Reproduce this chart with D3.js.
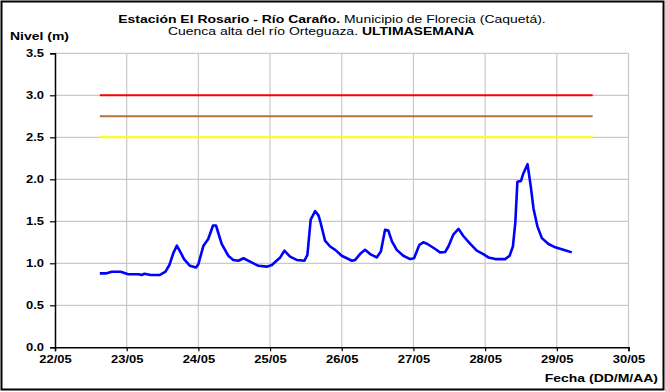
<!DOCTYPE html>
<html><head><meta charset="utf-8">
<script src="https://cdn.jsdelivr.net/npm/d3@7"></script>
<style>body{margin:0;background:#fff}svg{display:block;font-family:"Liberation Sans",Arial,sans-serif}</style>
</head><body><svg id="c" width="665" height="392"></svg>
<script>
// Hours after 22/05 00:00 and water level (m)
const hours = [15,17,19,22,24.5,28,29,30,32,35,37,38.3,39.6,40.8,41.9,43.2,45.2,47.2,48,49.7,51.3,52.9,53.9,55.8,58,59.7,61.4,63.1,65.3,68.1,70.9,72.6,75.4,76.8,78.7,80.9,83.5,84.5,85.6,87.1,88.2,88.8,90.4,92.1,93.8,96,97.7,99.4,100.5,102.1,103.8,105.5,107.7,109.1,110.5,111.6,112.8,114.4,116.6,118.9,120.2,122,123.3,124.7,127.3,128.9,130.6,131.7,133.4,135.1,136.7,138.8,141.2,143.4,145.1,147.4,150.7,152.2,153.3,154.1,154.8,156,156.8,158.2,159.3,160.2,161.5,163,165.2,167.5,170.2,173];
const levels = [0.88,0.88,0.90,0.90,0.87,0.87,0.86,0.875,0.86,0.86,0.90,0.98,1.12,1.21,1.14,1.05,0.97,0.95,0.99,1.21,1.29,1.45,1.45,1.23,1.09,1.04,1.03,1.06,1.02,0.97,0.96,0.98,1.07,1.15,1.08,1.04,1.03,1.10,1.52,1.62,1.57,1.50,1.27,1.20,1.16,1.09,1.06,1.03,1.04,1.11,1.16,1.11,1.07,1.14,1.40,1.39,1.26,1.16,1.09,1.05,1.06,1.22,1.25,1.23,1.17,1.13,1.135,1.20,1.345,1.41,1.325,1.24,1.15,1.11,1.07,1.05,1.05,1.09,1.20,1.48,1.97,1.98,2.07,2.18,1.91,1.65,1.44,1.30,1.23,1.19,1.16,1.13];
const thresholdValues = [3.0, 2.75, 2.5];
const thresholdColors = ["#FF0000", "#B8733B", "#FFFF00"];
const thresholdSpan = [15, 180]; // hours after 22/05
const yTicks = [0,0.5,1,1.5,2,2.5,3,3.5];
const xTickLabels = ["22/05","23/05","24/05","25/05","26/05","27/05","28/05","29/05","30/05"];

const svg = d3.select("#c");
const W=665,H=392;
const L=55,R=628.5,T=53.3,B=347.3;
const SX=1.27; // horizontal stretch of the original title rendering
const SXT=1.18; // stretch for tick labels
const t0 = Date.UTC(2014,4,22);
const toDate = h => new Date(t0 + h*3600000);
const x = d3.scaleUtc().domain([toDate(0), toDate(192)]).range([L,R]);
const y = d3.scaleLinear().domain([0,3.5]).range([B,T]);

svg.append("rect").attr("x",1.5).attr("y",1.5).attr("width",W-3).attr("height",H-4)
  .attr("fill","#fff").attr("stroke","#000").attr("stroke-width",2);

const dayTicks = xTickLabels.map((s,i)=>toDate(i*24));
// grid
svg.append("g").selectAll("line").data(yTicks.slice(1)).join("line")
  .attr("x1",L).attr("x2",R).attr("y1",d=>y(d)).attr("y2",d=>y(d))
  .attr("stroke","#c8c8c8").attr("stroke-width",1.2);
svg.append("g").selectAll("line").data(dayTicks.slice(1)).join("line")
  .attr("x1",d=>x(d)).attr("x2",d=>x(d)).attr("y1",T).attr("y2",B)
  .attr("stroke","#c8c8c8").attr("stroke-width",1.2);

// axes
const yAxis = d3.axisLeft(y).tickValues(yTicks).tickFormat(d3.format(".1f")).tickSize(5).tickPadding(6);
const gy = svg.append("g").attr("transform",`translate(${L},0)`).call(yAxis);
const xAxis = d3.axisBottom(x).tickValues(dayTicks).tickFormat((d,i)=>xTickLabels[i]).tickSize(4).tickPadding(4);
const gx = svg.append("g").attr("transform",`translate(0,${B})`).call(xAxis);
[gx,gy].forEach(g=>{
  g.select(".domain").attr("stroke","#000").attr("stroke-width",1.5);
  g.selectAll(".tick line").attr("stroke","#000").attr("stroke-width",1.2);
  g.selectAll("text").attr("fill","#000").style("font-size","11px").style("font-weight","bold");
});
// stretch tick labels horizontally around their anchors
gy.selectAll(".tick text").each(function(){
  const el=d3.select(this); const ox=+el.attr("x")||0;
  el.attr("x",0).attr("transform",`translate(${ox},0) scale(${SXT},1)`);
});
gx.selectAll(".tick text").attr("transform",`scale(${SXT},1)`);

// thresholds
svg.append("g").selectAll("line").data(thresholdValues).join("line")
  .attr("x1",x(toDate(thresholdSpan[0]))).attr("x2",x(toDate(thresholdSpan[1])))
  .attr("y1",d=>y(d)).attr("y2",d=>y(d))
  .attr("stroke",(d,i)=>thresholdColors[i]).attr("stroke-width",2);

// series
const data = hours.map((h,i)=>({t:toDate(h),v:levels[i]}));
svg.append("path").datum(data)
  .attr("d",d3.line().x(d=>x(d.t)).y(d=>y(d.v)))
  .attr("fill","none").attr("stroke","#0000FF").attr("stroke-width",2.6).attr("stroke-linejoin","round");

// titles
function label(px,py,anchor){
  return svg.append("text").attr("x",0).attr("y",0).attr("text-anchor",anchor)
    .attr("transform",`translate(${px},${py}) scale(${SX},1)`).style("font-size","11px");
}
const t1 = label(332,23,"middle");
t1.append("tspan").attr("font-weight","bold").text("Estación El Rosario - Río Caraño.");
t1.append("tspan").text(" Municipio de Florecia (Caquetá).");
const t2 = label(321,35,"middle");
t2.append("tspan").text("Cuenca alta del río Orteguaza. ");
t2.append("tspan").attr("font-weight","bold").text("ULTIMASEMANA");
label(10,40,"start").attr("font-weight","bold").text("Nivel (m)");
label(658,382,"end").attr("font-weight","bold").text("Fecha (DD/M/AA)");
</script></body></html>
